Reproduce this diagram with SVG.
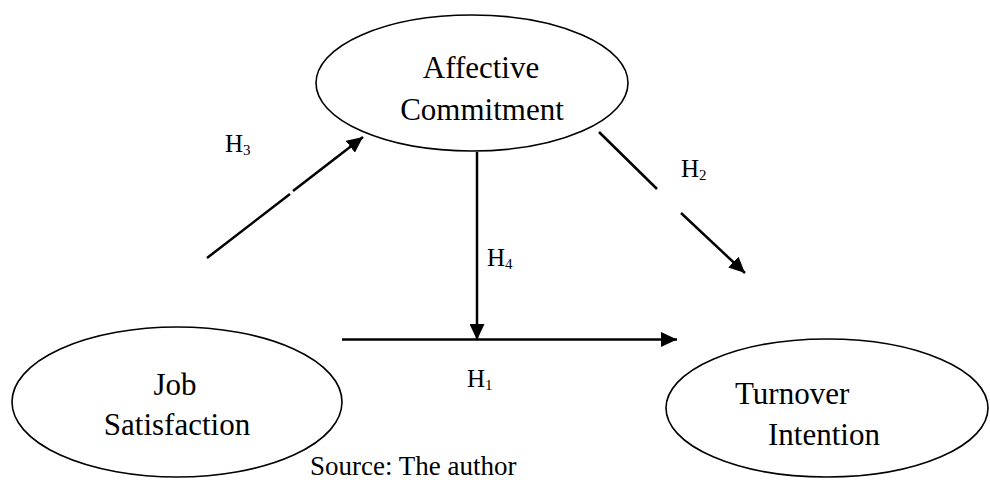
<svg xmlns="http://www.w3.org/2000/svg" width="990" height="482" viewBox="0 0 990 482" font-family="'Liberation Serif', 'Times New Roman', serif">
<defs>
<marker id="ah" markerUnits="userSpaceOnUse" markerWidth="16" markerHeight="15" refX="16" refY="7.5" orient="auto">
<path d="M0,0 L16,7.5 L0,15 z" fill="#000"/>
</marker>
<style>
ellipse{fill:#fff;stroke:#000;stroke-width:1.6}
text{font-family:'Liberation Serif','Times New Roman',serif;fill:#000}
.nt{font-size:25px}
.edge{stroke:#000;stroke-width:2.5;fill:none}
</style>
</defs>
<rect width="990" height="482" fill="#fff"/>
<g id="affective">
<ellipse cx="472" cy="83" rx="156" ry="68"/>
<text class="nt" transform="translate(481 78) scale(1.24)" text-anchor="middle">Affective</text>
<text class="nt" transform="translate(482 120) scale(1.24)" text-anchor="middle">Commitment</text>
</g>
<g id="job">
<ellipse cx="177" cy="402" rx="165" ry="75"/>
<text class="nt" transform="translate(175 395) scale(1.24)" text-anchor="middle">Job</text>
<text class="nt" transform="translate(177 435) scale(1.24)" text-anchor="middle">Satisfaction</text>
</g>
<g id="turnover">
<ellipse cx="827" cy="408" rx="161" ry="69"/>
<text class="nt" transform="translate(735 404) scale(1.24)">Turnover</text>
<text class="nt" transform="translate(768 445) scale(1.24)">Intention</text>
</g>
<g id="connectors">
<line class="edge" x1="342" y1="339.5" x2="677" y2="339.5" marker-end="url(#ah)"/>
<line class="edge" x1="477" y1="152" x2="477" y2="340" marker-end="url(#ah)"/>
<line class="edge" x1="207" y1="258" x2="290" y2="194"/>
<line class="edge" x1="293" y1="191" x2="363" y2="137" marker-end="url(#ah)"/>
<line class="edge" x1="599" y1="132" x2="657" y2="189"/>
<line class="edge" x1="681" y1="213" x2="745" y2="273" marker-end="url(#ah)"/>
</g>
<g id="labels" font-size="25">
<text x="225" y="152" font-size="25">H<tspan font-size="15" dy="3">3</tspan></text>
<text x="681" y="177" font-size="25">H<tspan font-size="15" dy="3">2</tspan></text>
<text x="487" y="266" font-size="25">H<tspan font-size="15" dy="3">4</tspan></text>
<text x="467" y="387" font-size="25">H<tspan font-size="15" dy="3">1</tspan></text>
<text x="310" y="475" font-size="27">Source: The author</text>
</g>
</svg>
